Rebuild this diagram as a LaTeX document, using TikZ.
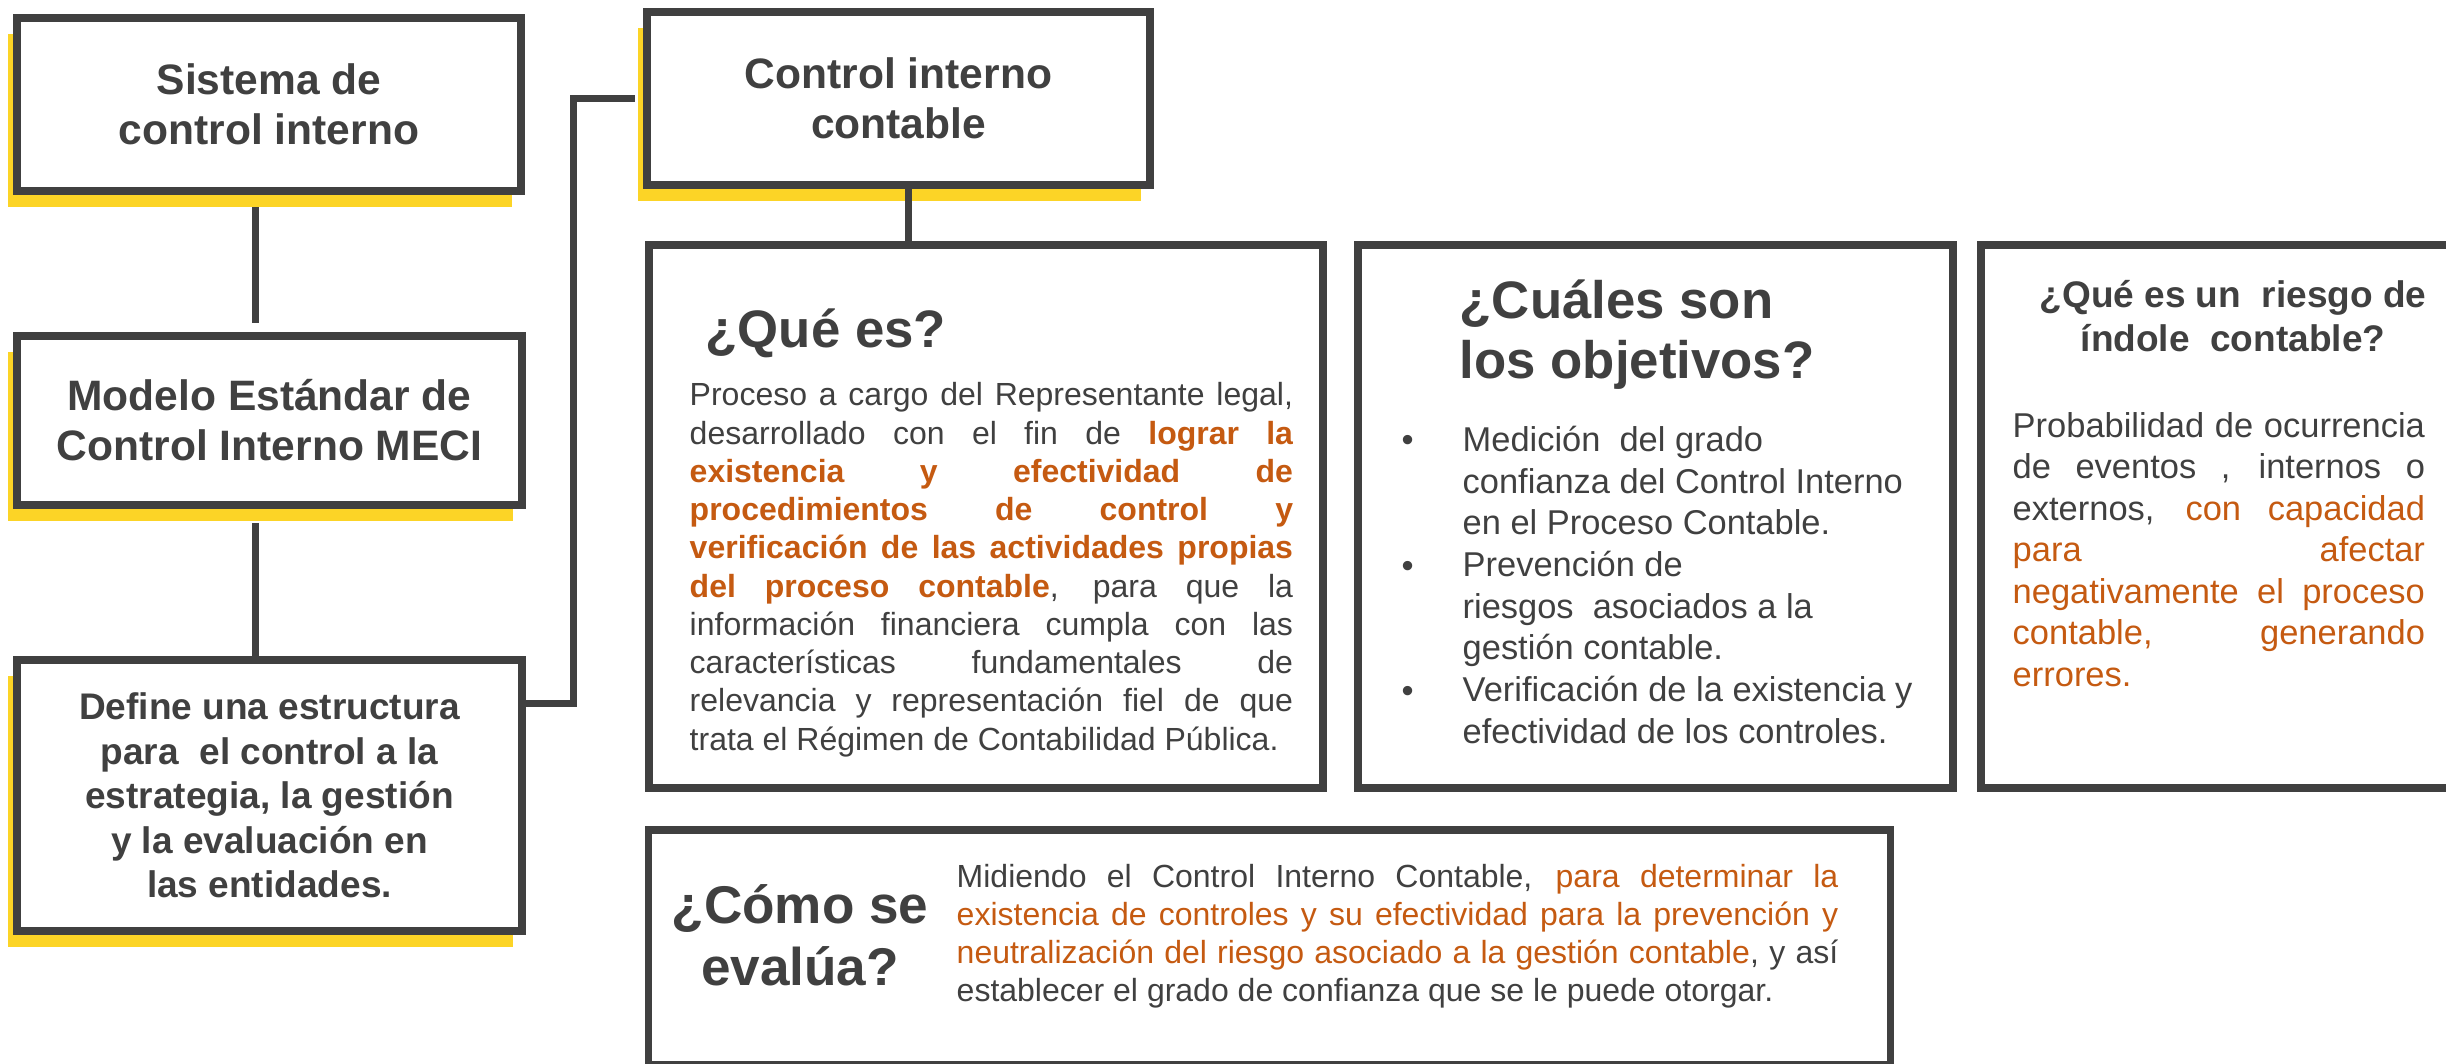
\documentclass[tikz,border=0pt]{standalone}
\usepackage{fontspec}
\setmainfont{Liberation Sans}
\usepackage{xcolor}
\usepackage{tikz}
\usetikzlibrary{
  shadows,
  calc
}
\definecolor{ink}{RGB}{64,64,64}
\definecolor{accent}{RGB}{197,90,17}
\definecolor{marker}{RGB}{252,212,38}
\setlength{\parindent}{0pt}
\hbadness=10000
\newcommand{\keybold}[1]{{\color{accent}\bfseries #1}}
\newcommand{\keytext}[1]{{\color{accent}#1}}

\begin{document}
\begin{tikzpicture}[x=0.01cm, y=-0.01cm,
  every node/.style={text=ink},
  card/.style={draw=ink, line width=0.075cm, fill=white, inner sep=0pt},
  lifted/.style={drop shadow={shadow xshift=-0.09cm, shadow yshift=-0.16cm, fill=marker, opacity=1}},
  head/.style={align=center, font=\fontsize{12.1}{14.2}\selectfont\bfseries},
  link/.style={draw=ink, line width=0.07cm},
  title/.style={inner sep=0pt, font=\fontsize{15}{17.2}\selectfont\bfseries},
  body/.style={inner sep=0pt, anchor=base west, align=justify, font=\fontsize{9.1}{10.87}\selectfont}
]
  \useasboundingbox (0,0) rectangle (2446,1064);

  % Left column
  \node[card, lifted, head, minimum width=5.04cm, minimum height=1.73cm] (sistema) at (269,104.5) {Sistema de\\control interno};
  \node[card, lifted, head, minimum width=5.05cm, minimum height=1.69cm] (modelo) at (269.5,420.5) {Modelo Estándar de\\Control Interno MECI};
  \node[card, lifted, align=center, font=\fontsize{10.53}{12.66}\selectfont\bfseries,
        minimum width=5.05cm, minimum height=2.71cm] (define) at (269.5,795.5)
        {Define una estructura\\para\ \ el control a la\\estrategia, la gestión\\y la evaluación en\\las entidades.};

  % Top box
  \node[card, lifted, head, minimum width=5.03cm, minimum height=1.73cm] (contable) at (898.5,98.5) {Control interno\\contable};

  % Question boxes
  \node[card, minimum width=6.74cm, minimum height=5.43cm] (que) at (986,516.5) {};
  \node[card, minimum width=5.95cm, minimum height=5.43cm] (cuales) at (1655.5,516.5) {};
  \node[card, minimum width=4.69cm, minimum height=5.43cm] (riesgo) at (2215.5,516.5) {};
  \node[card, minimum width=12.41cm, minimum height=2.35cm] (como) at (1269.5,947.5) {};

  % Connectors
  \coordinate (spine) at (255,0);
  \draw[link, shorten <=0.12cm, shorten >=0.09cm] (sistema.south -| spine) -- (modelo.north -| spine);
  \draw[link, shorten <=0.14cm] (modelo.south -| spine) -- (define.north -| spine);
  \coordinate (elbow) at (573,703);
  \draw[link, shorten >=0.08cm] (elbow -| define.east) -- (elbow) |- (contable.west);
  \coordinate (drop) at (908,0);
  \draw[link] (contable.south -| drop) -- (que.north -| drop);

  % ¿Qué es?
  \node[title, anchor=base west] (quetitle) at (705,348) {¿Qué es?};
  \node[body, text width=6.03cm] (quetext) at (689,406)
    {Proceso a cargo del Representante legal,\linebreak
     desarrollado con el fin de \keybold{lograr la\linebreak
     existencia y efectividad de\linebreak
     procedimientos de control y\linebreak
     verificación de las actividades propias\linebreak
     del proceso contable}, para que la\linebreak
     información financiera cumpla con las\linebreak
     características fundamentales de\linebreak
     relevancia y representación fiel de que\linebreak
     trata el Régimen de Contabilidad Pública.};

  % ¿Cuáles son los objetivos?
  \node[title, anchor=base west, align=left] (cualestitle) at (1459,379) {¿Cuáles son\\los objetivos?};
  \node[inner sep=0pt, anchor=base west, align=left, font=\fontsize{9.79}{11.84}\selectfont] (cualestext) at (1462,743)
    {Medición\ \ del grado\\confianza del Control Interno\\en el Proceso Contable.\\Prevención de\\riesgos\ \ asociados a la\\gestión contable.\\Verificación de la existencia y\\efectividad de los controles.};
  \foreach \y [count=\i] in {452,577,702}{
    \node[inner sep=0pt, anchor=base west, font=\fontsize{9.79}{11.84}\selectfont] (dot\i) at (1401,\y) {•};
  }

  % ¿Qué es un riesgo de índole contable?
  \node[inner sep=0pt, anchor=base, align=center, font=\fontsize{10.53}{12.52}\selectfont\bfseries] (riesgotitle) at (2233,352)
    {¿Qué es un\ \ riesgo de\\índole\ \ contable?};
  \node[body, text width=4.12cm, font=\fontsize{9.8}{11.81}\selectfont] (riesgotext) at (2012,437)
    {Probabilidad de ocurrencia\linebreak
     de eventos , internos o\linebreak
     externos, \keytext{con capacidad\linebreak
     para afectar\linebreak
     negativamente el proceso\linebreak
     contable, generando\linebreak
     errores.}};

  % ¿Cómo se evalúa?
  \node[title, anchor=base, align=center, font=\fontsize{15.1}{17.6}\selectfont\bfseries] (comotitle) at (800,985) {¿Cómo se\\evalúa?};
  \node[body, text width=8.81cm] (comotext) at (956,887)
    {Midiendo el Control Interno Contable, \keytext{para determinar la\linebreak
     existencia de controles y su efectividad para la prevención y\linebreak
     neutralización del riesgo asociado a la gestión contable}, y así\linebreak
     establecer el grado de confianza que se le puede otorgar.};
\end{tikzpicture}
\end{document}
